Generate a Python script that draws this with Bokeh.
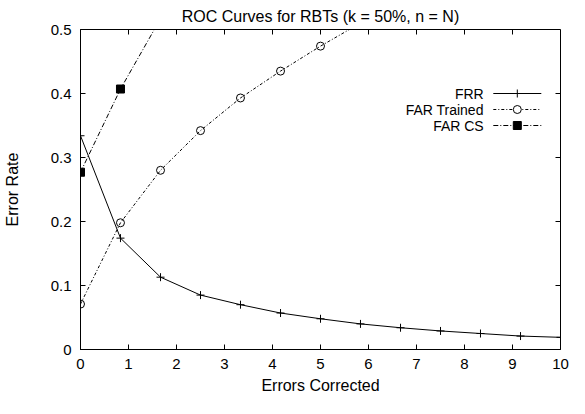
import math
from bokeh.plotting import figure
from bokeh.models import FixedTicker, Range1d
from bokeh.embed import file_html
from bokeh.resources import INLINE
from bokeh.core.properties import value

# ---- data ----
frr_x = [0, 0.833, 1.667, 2.5, 3.333, 4.167, 5, 5.833, 6.667, 7.5, 8.333, 9.167, 10]
frr_y = [0.334, 0.174, 0.113, 0.085, 0.070, 0.057, 0.048, 0.040, 0.034, 0.029, 0.025, 0.021, 0.019]
trained_x = [0, 0.833, 1.667, 2.5, 3.333, 4.167, 5, 5.833]
trained_y = [0.071, 0.198, 0.280, 0.342, 0.393, 0.435, 0.474, 0.510]
cs_x = [0, 0.833, 1.667]
cs_y = [0.277, 0.407, 0.517]
x_ticks = [0, 1, 2, 3, 4, 5, 6, 7, 8, 9, 10]
y_ticks = [0, 0.1, 0.2, 0.3, 0.4, 0.5]
series_names = ["FRR", "FAR Trained", "FAR CS"]

FONT = "Liberation Sans"
FS_BIG = "16px"
FS_TICK = "15px"
FS_KEY = "14px"

p = figure(width=569, height=398, output_backend="svg", toolbar_location=None,
           x_range=Range1d(0, 10), y_range=Range1d(0, 0.5),
           min_border_left=76, min_border_right=9, min_border_top=29, min_border_bottom=49,
           title="ROC Curves for RBTs (k = 50%, n = N)")
p.title.align = "center"
p.title.vertical_align = "top"
p.title.text_font = FONT
p.title.text_font_size = FS_BIG
p.title.text_font_style = "normal"
p.title.text_color = "black"
p.title.standoff = 6
p.xgrid.visible = False
p.ygrid.visible = False
p.outline_line_color = "black"
p.outline_line_width = 1
p.background_fill_color = "white"
p.border_fill_color = "white"

for ax in (p.xaxis[0], p.yaxis[0]):
    ax.major_tick_in = 5
    ax.major_tick_out = 0
    ax.minor_tick_line_color = None
    ax.axis_line_color = "black"
    ax.major_tick_line_color = "black"
    ax.major_label_text_font = FONT
    ax.major_label_text_font_size = FS_TICK
    ax.major_label_text_color = "black"
    ax.axis_label_text_font = FONT
    ax.axis_label_text_font_size = FS_BIG
    ax.axis_label_text_font_style = "normal"
    ax.axis_label_text_color = "black"

p.xaxis.ticker = FixedTicker(ticks=x_ticks)
p.yaxis.ticker = FixedTicker(ticks=y_ticks)
p.yaxis.major_label_overrides = {0: "0"}
p.xaxis.axis_label = "Errors Corrected"
p.yaxis.axis_label = "Error Rate"
p.xaxis.major_label_standoff = 9
p.xaxis.axis_label_standoff = 5
p.yaxis.major_label_standoff = 9
p.yaxis.axis_label_standoff = 27

# mirrored inward ticks on the top and right edges of the box
p.ray(x=x_ticks, y=[0.5] * len(x_ticks), length=5, length_units="screen",
      angle=-math.pi / 2, line_color="black", line_width=1)
p.ray(x=[10] * len(y_ticks), y=y_ticks, length=5, length_units="screen",
      angle=math.pi, line_color="black", line_width=1)

# ---- series ----
p.line(frr_x, frr_y, line_color="black", line_width=1)
p.scatter(frr_x, frr_y, marker="cross", size=8, line_color="black", line_width=1)

p.line(trained_x, trained_y, line_color="black", line_width=1, line_dash="3 2 1 2")
p.scatter(trained_x, trained_y, marker="circle", size=8, line_color="black",
          fill_color=None, line_width=1)

p.line(cs_x, cs_y, line_color="black", line_width=1, line_dash="5 2 1 2")
p.scatter(cs_x, cs_y, marker="square", size=8, line_color="black", fill_color="black")

# ---- key (gnuplot style: label on the left, sample on the right) ----
key_label_x = 8.4
key_x0, key_x1, key_mid = 8.6, 9.6, 9.1
key_rows = [0.400, 0.375, 0.350]

p.text(x=[key_label_x] * 3, y=key_rows, text=series_names, text_align="right",
       text_baseline="middle", text_font=value(FONT), text_font_size=FS_KEY, text_color="black")
p.segment(x0=[key_x0], y0=[key_rows[0]], x1=[key_x1], y1=[key_rows[0]], line_color="black", line_width=1)
p.scatter([key_mid], [key_rows[0]], marker="cross", size=8, line_color="black")
p.segment(x0=[key_x0], y0=[key_rows[1]], x1=[key_x1], y1=[key_rows[1]], line_color="black",
          line_width=1, line_dash="3 2 1 2")
p.scatter([key_mid], [key_rows[1]], marker="circle", size=8, line_color="black", fill_color="white")
p.segment(x0=[key_x0], y0=[key_rows[2]], x1=[key_x1], y1=[key_rows[2]], line_color="black",
          line_width=1, line_dash="5 2 1 2")
p.scatter([key_mid], [key_rows[2]], marker="square", size=8, line_color="black", fill_color="black")

open("out.html", "w").write(file_html(p, INLINE))
